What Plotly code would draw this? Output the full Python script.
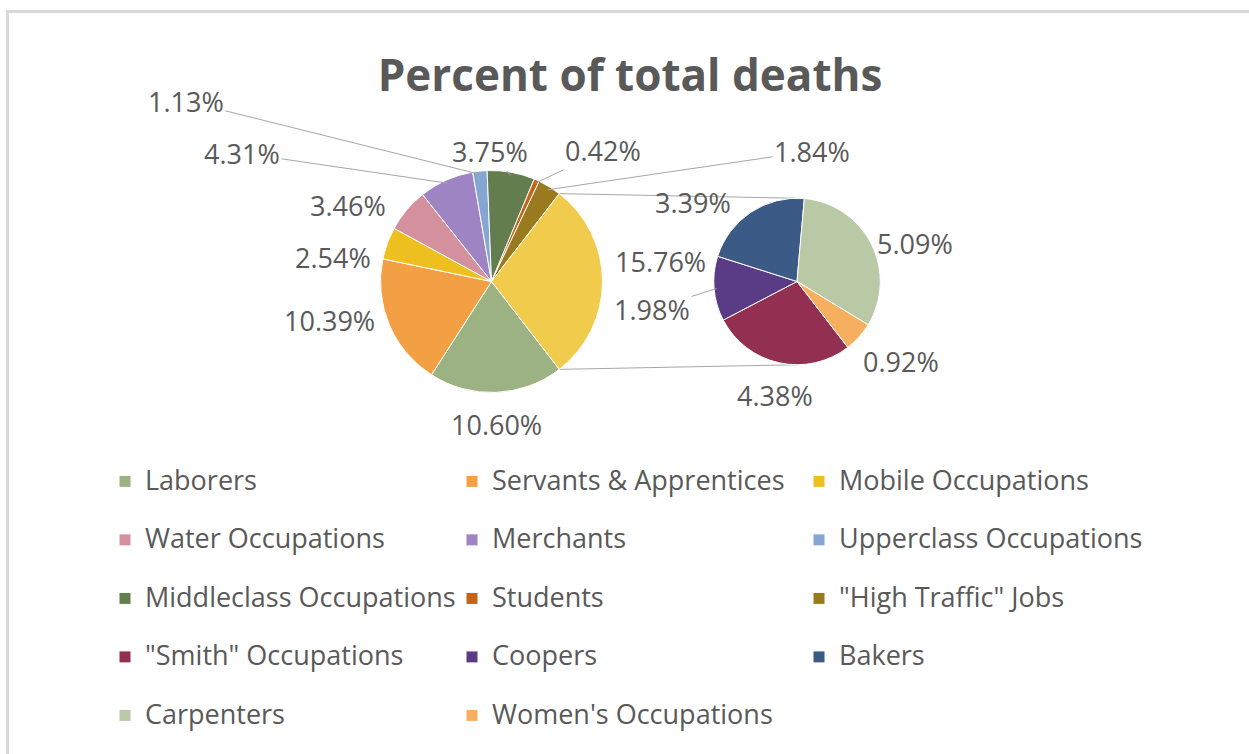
import math
import plotly.graph_objects as go

# ---------------- data ----------------
main_labels = ["Laborers", "Servants & Apprentices", "Mobile Occupations",
               "Water Occupations", "Merchants", "Upperclass Occupations",
               "Middleclass Occupations", "Students", "\"High Traffic\" Jobs"]
main_values = [10.60, 10.39, 2.54, 3.46, 4.31, 1.13, 3.75, 0.42, 1.84]

sub_labels = ["\"Smith\" Occupations", "Coopers", "Bakers", "Carpenters",
              "Women's Occupations"]
sub_values = [4.38, 1.98, 3.39, 5.09, 0.92]

other_label = "Other"
other_value = round(sum(sub_values), 2)

# ---------------- styles ----------------
main_colors = ["#9DB283", "#F2A043", "#EDC020", "#D5909E", "#9F84C4",
               "#85A6D2", "#637D4E", "#C66318", "#9A7A1E"]
sub_colors = ["#932F50", "#5A3B85", "#3B5B86", "#B9C8A5", "#F6AF5F"]
other_color = "#F0CB4C"

W, H = 1249, 754
C1 = (491.5, 281.5)
R1 = 111.0
C2 = (797.0, 281.5)
R2 = R1 * 0.75
FONT = "Open Sans"
TXT = "#595959"
LINE = "#A6A6A6"
LABEL_SIZE = 27

# label text centres (px) -- layout only
main_label_pos = [(496, 424), (329, 320), (333, 257), (348, 206), (242, 153),
                  (186, 101), (490, 151), (603, 151), (812, 151)]
other_label_pos = (661, 261)
sub_label_pos = [(775, 396), (652, 309), (693, 202), (915, 243), (901, 362)]
main_leader = [False, False, False, False, True, True, True, True, True]
sub_leader = [False, True, False, False, False]


def px(x):
    return x / W


def py(y):
    return 1 - y / H


def domain(c, r):
    return dict(x=[px(c[0] - r), px(c[0] + r)], y=[py(c[1] + r), py(c[1] - r)])


m_vals = main_values + [other_value]
m_total = sum(m_vals)
rotation = 90 + other_value / m_total * 360 / 2


def slice_angles(vals, rot):
    tot = sum(vals)
    out = []
    a = rot
    for v in vals:
        span = v / tot * 360
        out.append((a, a + span))
        a += span
    return out


def point(c, r, ang):
    t = math.radians(ang)
    return (c[0] + r * math.sin(t), c[1] - r * math.cos(t))


fig = go.Figure()

# main pie
fig.add_trace(go.Pie(
    labels=main_labels + [other_label], values=m_vals, sort=False,
    direction="clockwise", rotation=rotation, domain=domain(C1, R1),
    marker=dict(colors=main_colors + [other_color], line=dict(color="white", width=1)),
    textinfo="none", hoverinfo="label+value", showlegend=False,
))

# secondary pie (also carries the legend entries; main categories at zero)
legend_names = [f'<span style="font-size:27px">{l}</span><br> ' for l in main_labels + sub_labels]
fig.add_trace(go.Pie(
    labels=legend_names, values=[0] * len(main_values) + sub_values, sort=False,
    direction="clockwise", rotation=rotation, domain=domain(C2, R2),
    marker=dict(colors=main_colors + sub_colors, line=dict(color="white", width=1)),
    textinfo="none", hoverinfo="value", showlegend=True,
))

annotations = []


def add_label(text, c, r, ang, pos, leader):
    if leader:
        tip = point(c, r * 0.97, ang)
        annotations.append(dict(
            x=px(tip[0]), y=py(tip[1]), xref="paper", yref="paper",
            ax=pos[0] - tip[0], ay=pos[1] - tip[1], showarrow=True,
            arrowhead=0, arrowwidth=1, arrowcolor=LINE, standoff=0,
            text=text, font=dict(family=FONT, size=LABEL_SIZE, color=TXT)))
    else:
        annotations.append(dict(
            x=px(pos[0]), y=py(pos[1]), xref="paper", yref="paper",
            showarrow=False, xanchor="center", yanchor="middle",
            text=text, font=dict(family=FONT, size=LABEL_SIZE, color=TXT)))


m_ang = slice_angles(m_vals, rotation)
for i, v in enumerate(main_values):
    a0, a1 = m_ang[i]
    add_label(f"{v:.2f}%", C1, R1, (a0 + a1) / 2, main_label_pos[i], main_leader[i])
add_label(f"{other_value:.2f}%", C1, R1, sum(m_ang[-1]) / 2, other_label_pos, False)

s_ang = slice_angles(sub_values, rotation)
for i, v in enumerate(sub_values):
    a0, a1 = s_ang[i]
    add_label(f"{v:.2f}%", C2, R2, (a0 + a1) / 2, sub_label_pos[i], sub_leader[i])

# connector lines between the "other" slice and the secondary pie
top_a = m_ang[-1][0]
bot_a = m_ang[-1][1]
p_top = point(C1, R1, top_a)
p_bot = point(C1, R1, bot_a)
shapes = [
    dict(type="line", xref="paper", yref="paper", x0=px(p_top[0]), y0=py(p_top[1]),
         x1=px(C2[0]), y1=py(C2[1] - R2), line=dict(color=LINE, width=1), layer="below"),
    dict(type="line", xref="paper", yref="paper", x0=px(p_bot[0]), y0=py(p_bot[1]),
         x1=px(C2[0]), y1=py(C2[1] + R2), line=dict(color=LINE, width=1), layer="below"),
    # chart frame (only left and top edges are visible in the crop)
    dict(type="line", xref="paper", yref="paper", x0=px(7.5), y0=py(10),
         x1=px(7.5), y1=0, line=dict(color="#D9D9D9", width=3)),
    dict(type="line", xref="paper", yref="paper", x0=px(6), y0=py(11.5),
         x1=1, y1=py(11.5), line=dict(color="#D9D9D9", width=3)),
]

fig.update_layout(
    width=W, height=H,
    margin=dict(l=0, r=0, t=0, b=0, autoexpand=False),
    paper_bgcolor="white", plot_bgcolor="white",
    title=dict(text="Percent of total deaths", x=px(630), xanchor="center",
               y=py(76), yanchor="middle", yref="container",
               font=dict(family=FONT, size=44, color=TXT, weight="bold")),
    legend=dict(orientation="h", x=px(105), xanchor="left", y=py(461), yanchor="top",
                entrywidth=302, entrywidthmode="pixels", valign="top",
                font=dict(family=FONT, size=21.35, color=TXT),
                bgcolor="rgba(0,0,0,0)", traceorder="normal"),
    annotations=annotations,
    shapes=shapes,
)

fig.write_html("out.html")
